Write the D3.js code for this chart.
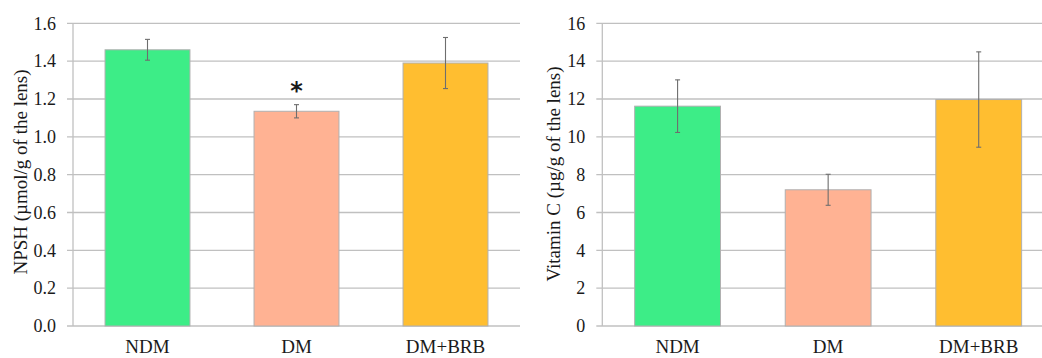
<!DOCTYPE html>
<html><head><meta charset="utf-8">
<script src="https://cdn.jsdelivr.net/npm/d3@7/dist/d3.min.js"></script>
<style>
body{margin:0;background:#fff;}
svg text{font-family:"Liberation Serif","Times New Roman",serif;fill:#1a1a1a;}
</style></head>
<body><svg id="c" width="1042" height="358"></svg>
<script>
const categories = ["NDM","DM","DM+BRB"];
const colors = ["#3ded87","#ffb293","#ffbe30"];
const npshValues = [1.46, 1.135, 1.39];
const npshErrors = [0.055, 0.035, 0.135];
const npshTicks = [0,0.2,0.4,0.6,0.8,1.0,1.2,1.4,1.6];
const vitcValues = [11.62, 7.2, 11.97];
const vitcErrors = [1.39, 0.82, 2.52];
const vitcTicks = [0,2,4,6,8,10,12,14,16];
const npshMarks = ["", "*", ""];

const svg = d3.select("#c");

function panel(opt){
  const g = svg.append("g");
  const x = d3.scaleBand().domain(categories).range([opt.x0, opt.x1]).paddingInner(0.43).paddingOuter(0.215);
  const y = d3.scaleLinear().domain([0, opt.max]).range([326, 23.3]);
  g.selectAll("line.grid").data(opt.ticks).join("line")
    .attr("x1", opt.x0 - 6).attr("x2", opt.x1)
    .attr("y1", d => y(d)).attr("y2", d => y(d))
    .attr("stroke", "#c0c0c0").attr("stroke-width", 1.3);
  g.append("line").attr("x1", opt.x0).attr("x2", opt.x0).attr("y1", y(0)).attr("y2", y(opt.max))
    .attr("stroke", "#c0c0c0").attr("stroke-width", 1.3);
  g.selectAll("text.tick").data(opt.ticks).join("text")
    .attr("x", opt.x0 - 17).attr("y", d => y(d)).attr("dy", "0.35em")
    .attr("text-anchor", "end").attr("font-size", 18)
    .text(d => opt.fmt(d));
  g.selectAll("rect.bar").data(opt.values).join("rect")
    .attr("x", (d,i) => x(categories[i])).attr("width", x.bandwidth())
    .attr("y", d => y(d)).attr("height", d => y(0) - y(d))
    .attr("fill", (d,i) => colors[i]).attr("stroke", "#b0b0b0").attr("stroke-width", 1);
  const eb = g.selectAll("g.eb").data(opt.values).join("g");
  eb.append("line")
    .attr("x1", (d,i) => x(categories[i]) + x.bandwidth()/2)
    .attr("x2", (d,i) => x(categories[i]) + x.bandwidth()/2)
    .attr("y1", (d,i) => y(d + opt.errors[i])).attr("y2", (d,i) => y(d - opt.errors[i]))
    .attr("stroke", "#6e6e6e").attr("stroke-width", 1.1);
  [1,-1].forEach(s => {
    eb.append("line")
      .attr("x1", (d,i) => x(categories[i]) + x.bandwidth()/2 - 2.5)
      .attr("x2", (d,i) => x(categories[i]) + x.bandwidth()/2 + 2.5)
      .attr("y1", (d,i) => y(d + s*opt.errors[i])).attr("y2", (d,i) => y(d + s*opt.errors[i]))
      .attr("stroke", "#6e6e6e").attr("stroke-width", 1.1);
  });
  if (opt.marks) {
    g.selectAll("text.mark").data(opt.values).join("text")
      .attr("x", (d,i) => x(categories[i]) + x.bandwidth()/2)
      .attr("y", (d,i) => y(d + opt.errors[i]) - 6)
      .attr("text-anchor", "middle").attr("font-size", 24).attr("font-weight", "bold")
      .style("font-family", "'DejaVu Sans',sans-serif")
      .text((d,i) => opt.marks[i]);
  }
  g.selectAll("text.xl").data(categories).join("text")
    .attr("x", d => x(d) + x.bandwidth()/2).attr("y", 353)
    .attr("text-anchor", "middle").attr("font-size", 19)
    .text(d => d);
  g.append("text")
    .attr("transform", `translate(${opt.titleX},${opt.titleY}) rotate(-90)`)
    .attr("text-anchor", "middle").attr("font-size", 19)
    .text(opt.title);
}

panel({x0:73, x1:520, max:1.6, ticks:npshTicks, values:npshValues, errors:npshErrors,
  fmt:d3.format(".1f"), marks:npshMarks, title:"NPSH (µmol/g of the lens)", titleX:27, titleY:172});
panel({x0:602.3, x1:1054, max:16, ticks:vitcTicks, values:vitcValues, errors:vitcErrors,
  fmt:d3.format("d"), title:"Vitamin C (µg/g of the lens)", titleX:560, titleY:174});
</script></body></html>
